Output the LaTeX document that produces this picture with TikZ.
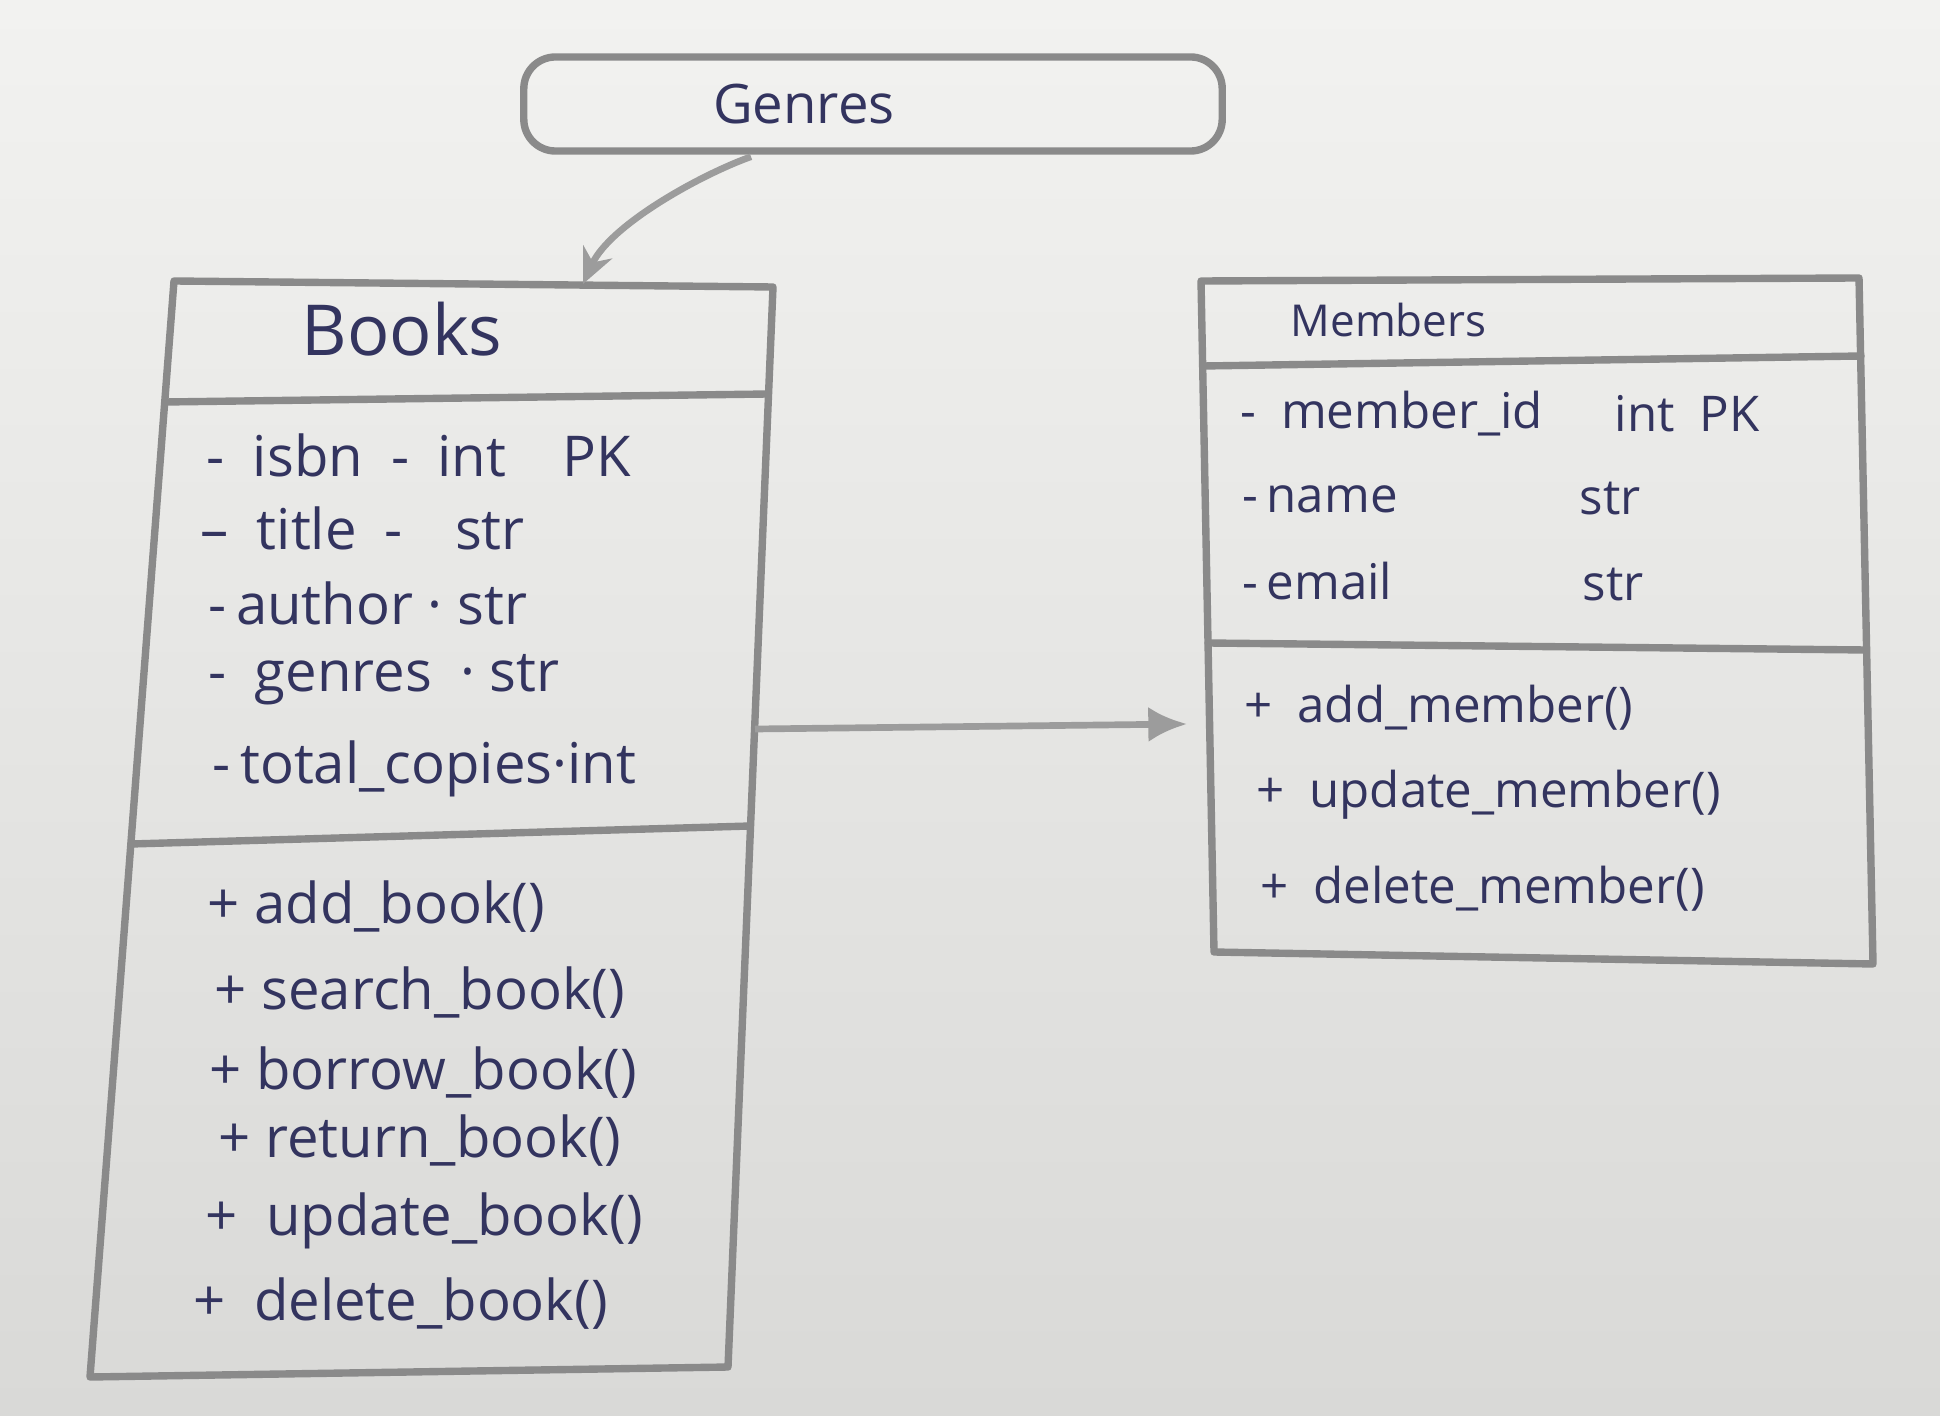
\documentclass[tikz,border=0pt]{standalone}
\usepackage{fontspec}
\setmainfont{Open Sans}
\usetikzlibrary{arrows.meta,calc}
\definecolor{paperA}{HTML}{F2F2F0}
\definecolor{paperB}{HTML}{D9D9D7}
\definecolor{pencil}{HTML}{8A8A8A}
\definecolor{ink}{HTML}{33345F}
\begin{document}
\begin{tikzpicture}[x=0.01cm,y=-0.01cm,
  box/.style={draw=pencil, line width=2.1pt, line join=round, line cap=round},
  divider/.style={draw=pencil, line width=2.1pt, line cap=round},
  conn/.style={draw=pencil!85, line width=1.9pt},
  genbox/.style={draw=pencil, line width=2.1pt, rounded corners=9pt,
    minimum width=6.98cm, minimum height=0.94cm, inner sep=0pt,
    text=ink, font=\fontsize{15.5pt}{19pt}\selectfont},
  title/.style={text=ink, inner sep=0pt, font=\fontsize{20pt}{24pt}\selectfont},
  mtitle/.style={text=ink, inner sep=0pt, anchor=west, font=\fontsize{12.5pt}{15pt}\selectfont},
  blbl/.style={text=ink, anchor=west, inner sep=0pt, font=\fontsize{16pt}{19pt}\selectfont},
  mlbl/.style={text=ink, anchor=west, inner sep=0pt, font=\fontsize{14pt}{17pt}\selectfont}]

% paper background
\fill[top color=paperA, bottom color=paperB] (0,0) rectangle (1940,1416);
\useasboundingbox (0,0) rectangle (1940,1416);

% ---------- Genres ----------
\node[genbox] (genres) at (873,104) {Genres\hspace*{1.38cm}};

% ---------- Books ----------
\coordinate (bTL) at (174,281);
\coordinate (bTR) at (773,287);
\coordinate (bBR) at (728,1367);
\coordinate (bBL) at (90,1377);
\draw[box] (bTL) -- (bTR) -- (bBR) -- (bBL) -- cycle;
\coordinate (bD1L) at (165,402);
\coordinate (bD1R) at (768,394);
\coordinate (bD2L) at (131,844);
\coordinate (bD2R) at (750,826);
\draw[divider] (bD1L) -- (bD1R);
\draw[divider] (bD2L) -- (bD2R);

\node[title] (booksT) at (402,329) {Books};
\node[blbl] (b1) at (206,455) {-\enspace isbn\enspace -\enspace int\quad PK};
\node[blbl] (b2) at (200,528) {–\enspace title\enspace -\enspace\, str};
\node[blbl] (b3) at (208,603) {-\,author · str};
\node[blbl] (b4) at (208,680) {-\enspace genres\enspace· str};
\node[blbl] (b5) at (212,769) {-\,total\_copies·int};

\node[blbl] (m1) at (207,907) {+ add\_book()};
\node[blbl] (m2) at (214,993) {+ search\_book()};
\node[blbl] (m3) at (209,1073) {+ borrow\_book()};
\node[blbl] (m4) at (218,1141) {+ return\_book()};
\node[blbl] (m5) at (205,1221) {+\enspace update\_book()};
\node[blbl] (m6) at (193,1304) {+\enspace delete\_book()};

% ---------- Members ----------
\coordinate (mTL) at (1201,281);
\coordinate (mTR) at (1859,278);
\coordinate (mBR) at (1873,964);
\coordinate (mBL) at (1214,952);
\draw[box] (mTL) -- (mTR) -- (mBR) -- (mBL) -- cycle;
\coordinate (mD1L) at (1203,366);
\coordinate (mD1R) at (1861,356);
\coordinate (mD2L) at (1208,643);
\coordinate (mD2R) at (1866,650);
\draw[divider] (mD1L) -- (mD1R);
\draw[divider] (mD2L) -- (mD2R);

\node[mtitle] (membersT) at (1290,320) {Members};
\node[mlbl] (a1) at (1240,414) {-\enspace member\_id};
\node[mlbl] (a1t) at (1614,414) {int\enspace PK};
\node[mlbl] (a2) at (1242,499) {-\,name};
\node[mlbl] (a2t) at (1579,499) {str};
\node[mlbl] (a3) at (1242,581) {-\,email};
\node[mlbl] (a3t) at (1582,585) {str};
\node[mlbl] (o1) at (1244,708) {+\enspace add\_member()};
\node[mlbl] (o2) at (1256,795) {+\enspace update\_member()};
\node[mlbl] (o3) at (1260,889) {+\enspace delete\_member()};

% ---------- Connectors ----------
\coordinate (gStart) at ($(genres.south)+(-122,2)$);
\coordinate (bIn) at (583,284);
\draw[conn, -{Stealth[length=10pt,width=9pt]}] (gStart) .. controls (700,175) and (610,225) .. (bIn);

\coordinate (bOut) at (755,729);
\coordinate (mNear) at (1187,724);
\draw[conn, -{Latex[length=11pt,width=10pt]}] (bOut) -- (mNear);

\end{tikzpicture}
\end{document}
